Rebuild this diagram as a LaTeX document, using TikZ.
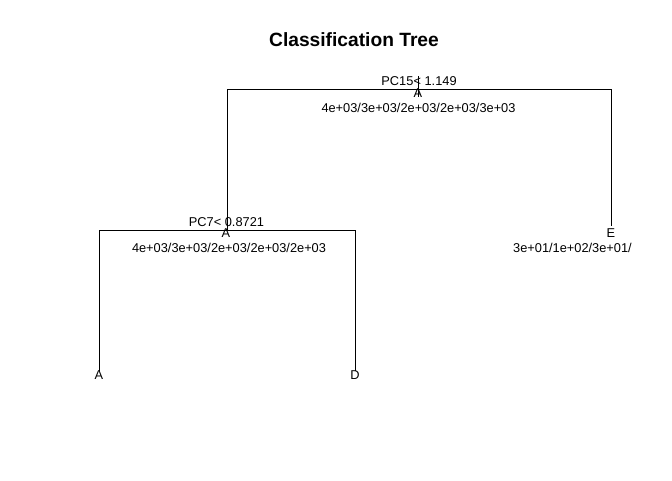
\documentclass[tikz,border=0pt]{standalone}
\usepackage{fontspec}
\setmainfont{Liberation Sans}
\begin{document}
\begin{tikzpicture}[x=1pt,y=-1pt,
  lbl/.style={inner sep=0pt,anchor=base,font=\fontsize{12.8}{14}\selectfont},
  ttl/.style={inner sep=0pt,anchor=base,font=\fontsize{19.2}{22}\selectfont\bfseries},
  edge/.style={draw=black,line width=1pt}]
\fill[white] (0,0) rectangle (672,480);
\useasboundingbox (0,0) rectangle (672,480);
% title
\node[ttl] (title) at (354,46.5) {Classification Tree};
% tree points
\coordinate (rtop) at (418,76);
\coordinate (rbot) at (418,97);
\coordinate (rL) at (227,89.5);
\coordinate (rR) at (611,89.5);
\coordinate (nL) at (227,230.5);
\coordinate (nE) at (611,226);
\coordinate (lL) at (99,230.5);
\coordinate (lR) at (355,230.5);
\coordinate (leafA) at (99,371);
\coordinate (leafD) at (355,371);
% connectors
\draw[edge] (rtop) -- (rbot);
\draw[edge] (nL) -- (rL) -- (rR) -- (nE);
\draw[edge] (leafA) -- (lL) -- (lR) -- (leafD);
% labels
\node[lbl] (s1) at (419,85.5) {PC15\kern0.2pt<\ 1.149};
\node[lbl] (c1) at (418,97) {A};
\node[lbl] (d1) at (418.5,112.5) {4e+03/3e+03/2e+03/2e+03/3e+03};
\node[lbl] (s2) at (226.5,226.5) {PC7<\ 0.8721};
\node[lbl] (c2) at (226,237) {A};
\node[lbl] (d2) at (229,252) {4e+03/3e+03/2e+03/2e+03/2e+03};
\node[lbl] (c3) at (611,237) {E};
\node[lbl,anchor=base west] (d3) at (513,252) {3e+01/1e+02/3e+01/};
\node[lbl] (c4) at (99,379) {A};
\node[lbl] (c5) at (355,379) {D};
\end{tikzpicture}
\end{document}
